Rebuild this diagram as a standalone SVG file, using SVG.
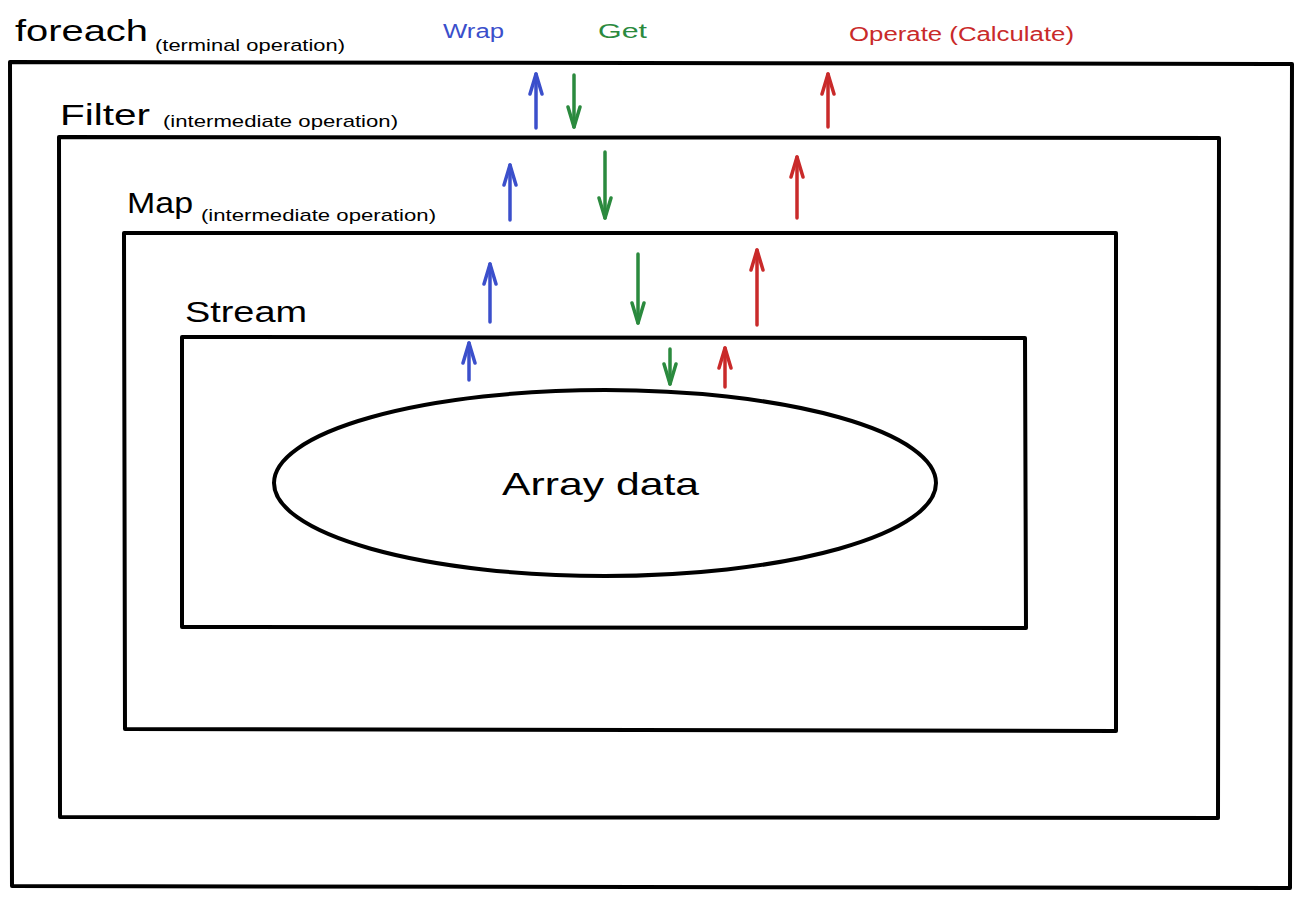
<svg xmlns="http://www.w3.org/2000/svg" width="1301" height="898" viewBox="0 0 1301 898">
<defs>
<style>
.box{fill:none;stroke:#000;stroke-width:4;stroke-linejoin:round}
.t{font-family:"Liberation Sans",Arial,sans-serif;fill:#000}
.big{font-size:30px}
.small{font-size:17px}
.lbl{font-size:20px}
.blue{stroke:#3b4fcb}
.green{stroke:#2b8a3e}
.red{stroke:#c92a2a}
.ar{fill:none;stroke-width:3.5;stroke-linecap:round;stroke-linejoin:round}
</style>
<marker id="hb" viewBox="0 0 24 18" refX="22" refY="9" markerWidth="24" markerHeight="18" markerUnits="userSpaceOnUse" orient="auto"><path d="M2,3 L22,9 L2,15" fill="none" stroke="#3b4fcb" stroke-width="3.5" stroke-linecap="round" stroke-linejoin="round"/></marker>
<marker id="hg" viewBox="0 0 24 18" refX="22" refY="9" markerWidth="24" markerHeight="18" markerUnits="userSpaceOnUse" orient="auto"><path d="M2,3 L22,9 L2,15" fill="none" stroke="#2b8a3e" stroke-width="3.5" stroke-linecap="round" stroke-linejoin="round"/></marker>
<marker id="hr" viewBox="0 0 24 18" refX="22" refY="9" markerWidth="24" markerHeight="18" markerUnits="userSpaceOnUse" orient="auto"><path d="M2,3 L22,9 L2,15" fill="none" stroke="#c92a2a" stroke-width="3.5" stroke-linecap="round" stroke-linejoin="round"/></marker>
</defs>
<rect width="1301" height="898" fill="#fff"/>
<g id="foreach">
<path class="box" d="M10,62 L1292,64 L1290,888 L12,886 Z"/>
<text class="t big" x="15" y="41" textLength="133" lengthAdjust="spacingAndGlyphs">foreach</text>
<text class="t small" x="155" y="51" textLength="190" lengthAdjust="spacingAndGlyphs">(terminal operation)</text>
</g>
<g id="filter">
<path class="box" d="M59,137 L1219,138 L1218,818 L60,817 Z"/>
<text class="t big" x="60" y="125" textLength="90" lengthAdjust="spacingAndGlyphs">Filter</text>
<text class="t small" x="163" y="127" textLength="235" lengthAdjust="spacingAndGlyphs">(intermediate operation)</text>
</g>
<g id="map">
<path class="box" d="M124,233 L1116,233 L1116,731 L125,729 Z"/>
<text class="t big" x="127" y="213" textLength="66" lengthAdjust="spacingAndGlyphs">Map</text>
<text class="t small" x="201" y="221" textLength="235" lengthAdjust="spacingAndGlyphs">(intermediate operation)</text>
</g>
<g id="stream">
<path class="box" d="M182,337 L1025,338 L1026,628 L182,627 Z"/>
<text class="t big" x="185" y="322" textLength="122" lengthAdjust="spacingAndGlyphs">Stream</text>
</g>
<g id="array">
<ellipse cx="605" cy="483" rx="331" ry="93" fill="none" stroke="#000" stroke-width="4"/>
<text class="t" font-size="32" x="502" y="495" textLength="197" lengthAdjust="spacingAndGlyphs">Array data</text>
</g>
<g id="legend">
<text class="t lbl" x="443" y="38" style="fill:#3b4fcb" textLength="61" lengthAdjust="spacingAndGlyphs">Wrap</text>
<text class="t lbl" x="598" y="38" style="fill:#2b8a3e" textLength="49" lengthAdjust="spacingAndGlyphs">Get</text>
<text class="t lbl" x="849" y="41" style="fill:#c92a2a" textLength="225" lengthAdjust="spacingAndGlyphs">Operate (Calculate)</text>
</g>
<g id="connectors">
<path class="ar blue" d="M536,128 L536,74" marker-end="url(#hb)"/>
<path class="ar blue" d="M510,220 L510,165" marker-end="url(#hb)"/>
<path class="ar blue" d="M490,322 L490,264" marker-end="url(#hb)"/>
<path class="ar blue" d="M469,380 L469,343" marker-end="url(#hb)"/>
<path class="ar green" d="M574,75 L574,127" marker-end="url(#hg)"/>
<path class="ar green" d="M605,152 L605,218" marker-end="url(#hg)"/>
<path class="ar green" d="M638,254 L638,323" marker-end="url(#hg)"/>
<path class="ar green" d="M670,349 L670,384" marker-end="url(#hg)"/>
<path class="ar red" d="M828,127 L828,74" marker-end="url(#hr)"/>
<path class="ar red" d="M797,218 L797,157" marker-end="url(#hr)"/>
<path class="ar red" d="M757,325 L757,250" marker-end="url(#hr)"/>
<path class="ar red" d="M725,387 L725,348" marker-end="url(#hr)"/>
</g>
</svg>
